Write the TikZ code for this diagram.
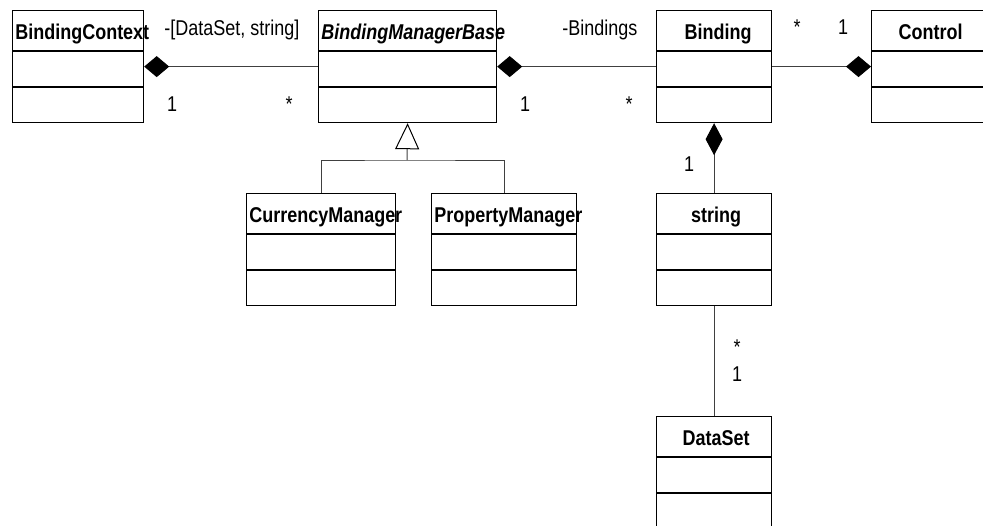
\documentclass[tikz,border=0pt]{standalone}
\usepackage{fontspec}
\setmainfont[FakeStretch=0.84]{Liberation Sans}
\usetikzlibrary{arrows.meta}

\tikzset{
  classbox/.style={draw, line width=0.6pt, anchor=north west, minimum height=56pt, inner sep=0pt},
  classname/.style={font=\fontsize{10.7pt}{12pt}\selectfont\bfseries, inner sep=0pt, anchor=base},
  mult/.style={font=\fontsize{10.7pt}{12pt}\selectfont, inner sep=0pt, anchor=base},
  assoc/.style={draw=black!75, line width=0.5pt},
  comp/.style={assoc, -{Diamond[length=12.5pt, width=10.5pt, black]}},
  compv/.style={assoc, -{Diamond[length=16pt, width=8.5pt, black]}},
  gen/.style={assoc, -{Triangle[open, length=13pt, width=12pt, black]}}
}

\begin{document}
\begin{tikzpicture}[x=0.5pt, y=-0.5pt]
\useasboundingbox (0,0) rectangle (983,525);

\node[classbox, minimum width=65.5pt] (ctx) at (12,10) {};
\node[classbox, minimum width=89pt] (bmb) at (318,10) {};
\node[classbox, minimum width=57.5pt] (bind) at (656,10) {};
\node[classbox, minimum width=59pt] (ctl) at (871,10) {};
\node[classbox, minimum width=74.5pt] (cur) at (246,193) {};
\node[classbox, minimum width=72.5pt] (prop) at (431,193) {};
\node[classbox, minimum width=57.5pt] (str) at (656,193) {};
\node[classbox, minimum width=57.5pt] (ds) at (656,416) {};

\draw[line width=0.6pt] ([yshift=-20.5pt]ctx.north west) -- ([yshift=-20.5pt]ctx.north east) ([yshift=-38.5pt]ctx.north west) -- ([yshift=-38.5pt]ctx.north east);
\draw[line width=0.6pt] ([yshift=-20.5pt]bmb.north west) -- ([yshift=-20.5pt]bmb.north east) ([yshift=-38.5pt]bmb.north west) -- ([yshift=-38.5pt]bmb.north east);
\draw[line width=0.6pt] ([yshift=-20.5pt]bind.north west) -- ([yshift=-20.5pt]bind.north east) ([yshift=-38.5pt]bind.north west) -- ([yshift=-38.5pt]bind.north east);
\draw[line width=0.6pt] ([yshift=-20.5pt]ctl.north west) -- ([yshift=-20.5pt]ctl.north east) ([yshift=-38.5pt]ctl.north west) -- ([yshift=-38.5pt]ctl.north east);
\draw[line width=0.6pt] ([yshift=-20.5pt]cur.north west) -- ([yshift=-20.5pt]cur.north east) ([yshift=-38.5pt]cur.north west) -- ([yshift=-38.5pt]cur.north east);
\draw[line width=0.6pt] ([yshift=-20.5pt]prop.north west) -- ([yshift=-20.5pt]prop.north east) ([yshift=-38.5pt]prop.north west) -- ([yshift=-38.5pt]prop.north east);
\draw[line width=0.6pt] ([yshift=-20.5pt]str.north west) -- ([yshift=-20.5pt]str.north east) ([yshift=-38.5pt]str.north west) -- ([yshift=-38.5pt]str.north east);
\draw[line width=0.6pt] ([yshift=-20.5pt]ds.north west) -- ([yshift=-20.5pt]ds.north east) ([yshift=-38.5pt]ds.north west) -- ([yshift=-38.5pt]ds.north east);

\node[classname, anchor=base west] (ctxname) at ([xshift=1.5pt, yshift=-14.5pt]ctx.north west) {BindingContext};
\node[classname, anchor=base west] (bmbname) at ([xshift=1.5pt, yshift=-14.5pt]bmb.north west) {\itshape BindingManagerBase};
\node[classname] (bindname) at ([xshift=2pt, yshift=-14.5pt]bind.north) {Binding};
\node[classname] (ctlname) at ([yshift=-14.5pt]ctl.north) {Control};
\node[classname, anchor=base west] (curname) at ([xshift=1.5pt, yshift=-14.5pt]cur.north west) {CurrencyManager};
\node[classname, anchor=base west] (propname) at ([xshift=1.5pt, yshift=-14.5pt]prop.north west) {PropertyManager};
\node[classname] (strname) at ([xshift=1pt, yshift=-14.5pt]str.north) {string};
\node[classname] (dsname) at ([xshift=1pt, yshift=-14.5pt]ds.north) {DataSet};

\draw[comp] (bmb.west) -- (ctx.east);
\draw[comp] (bind.west) -- (bmb.east);
\draw[comp] (bind.east) -- (ctl.west);
\draw[compv] (str.north) -- (bind.south);
\draw[assoc] (str.south) -- (ds.north);

\coordinate (fork) at (407,160);
\draw[gen] (fork) -- (bmb.south);
\draw[assoc] (cur.north) |- (fork) -| (prop.north);

\node[mult, anchor=base west] (ctxrole) at (164,35) {-[DataSet, string]};
\node[mult] (ctxone) at (172,111) {1};
\node[mult] (bmbmany) at (289,111) {*};
\node[mult, anchor=base west] (bindrole) at (562,35) {-Bindings};
\node[mult] (bmbone) at (525,111) {1};
\node[mult] (bindmany) at (629,111) {*};
\node[mult] (ctlmany) at (797,34) {*};
\node[mult] (ctlone) at (843,34) {1};
\node[mult] (strone) at (689,171) {1};
\node[mult] (dsmany) at (737,354) {*};
\node[mult] (dsone) at (737,381) {1};
\end{tikzpicture}
\end{document}
